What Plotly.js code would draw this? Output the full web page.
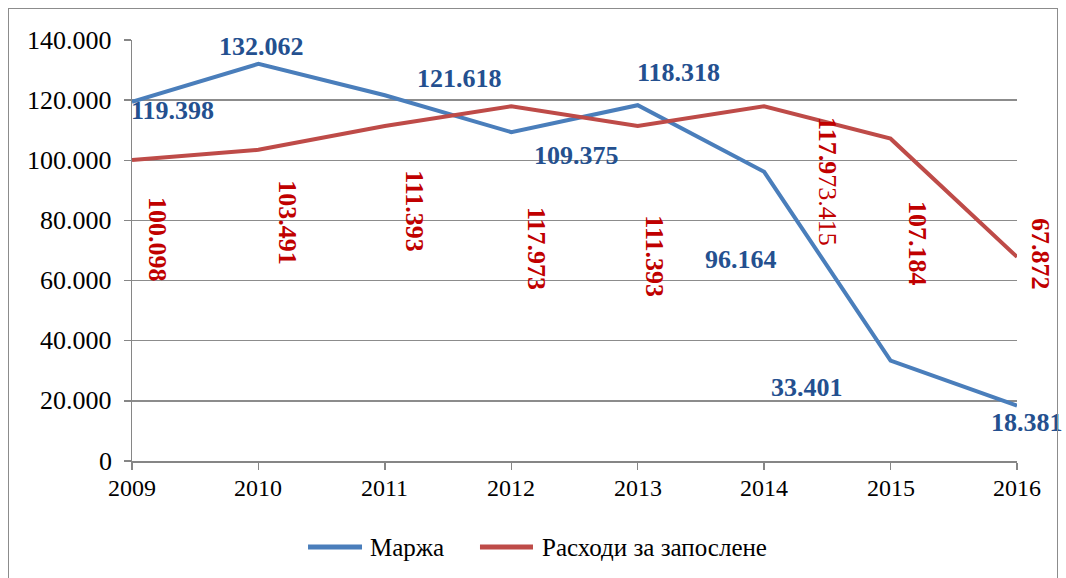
<!DOCTYPE html>
<html>
<head>
<meta charset="utf-8">
<script src="https://cdn.plot.ly/plotly-3.0.1.min.js"></script>
<style>
html,body{margin:0;padding:0;background:#fff;}
#chart{width:1066px;height:578px;}
#frame{position:absolute;left:8px;top:8px;width:1048px;height:590px;border:1.5px solid #8c8c8c;pointer-events:none;}
</style>
</head>
<body>
<div id="chart"></div>
<div id="frame"></div>
<script>
const years = [2009, 2010, 2011, 2012, 2013, 2014, 2015, 2016];
const marza = [119.398, 132.062, 121.618, 109.375, 118.318, 96.164, 33.401, 18.381];
const rashodi = [100.098, 103.491, 111.393, 117.973, 111.393, 117.973, 107.184, 67.872];
const marzaLabels = ['119.398','132.062','121.618','109.375','118.318','96.164','33.401','18.381'];
const rashodiLabels = ['100.098','103.491','111.393','117.973','111.393','<b>117.9</b>73.415','107.184','67.872'];
const yTickVals = [0, 20, 40, 60, 80, 100, 120, 140];
const yTickText = ['0','20.000','40.000','60.000','80.000','100.000','120.000','140.000'];
const seriesNames = ['Маржа', 'Расходи за запослене'];
const seriesColors = ['#4A7EBB', '#BE4B48'];

const blueShift = [[40,-9],[3,17],[75,17],[65,-23],[41,33],[-23,-88],[-84,-27],[10,-17]];
const redShift = [[25,-79],[29,-73],[30,-85],[25,-142],[17,-130],[64,-75],[27,-105],[23,3]];

const FAM = 'Liberation Serif';
const annList = [];
years.forEach((yr, i) => {
  annList.push({
    x: yr, y: marza[i], xref: 'x', yref: 'y', text: '<b>' + marzaLabels[i] + '</b>',
    showarrow: false, xshift: blueShift[i][0], yshift: blueShift[i][1],
    font: {family: FAM, size: 26, color: '#24508F'}
  });
  annList.push({
    x: yr, y: rashodi[i], xref: 'x', yref: 'y',
    text: i === 5 ? rashodiLabels[i] : '<b>' + rashodiLabels[i] + '</b>',
    showarrow: false, textangle: 90, xshift: redShift[i][0], yshift: redShift[i][1],
    font: {family: FAM, size: 26, color: '#C00000'}
  });
  // x tick labels
  annList.push({
    x: yr, y: 0, xref: 'x', yref: 'paper', text: String(yr), showarrow: false,
    yanchor: 'top', yshift: -12, font: {family: FAM, size: 24, color: '#000'}
  });
});
// y tick labels
yTickVals.forEach((v, i) => {
  annList.push({
    x: 0, y: v, xref: 'paper', yref: 'y', text: yTickText[i], showarrow: false,
    xanchor: 'right', xshift: -18, font: {family: FAM, size: 26, color: '#000'}
  });
});
// legend (drawn)
const legLine = [[0.1989, 0.2599], [0.3932, 0.4531]];
const legText = [0.2667, 0.461];
const legY = -0.2043;
const shapes = [];
seriesNames.forEach((nm, i) => {
  shapes.push({type: 'line', xref: 'paper', yref: 'paper', x0: legLine[i][0], x1: legLine[i][1],
               y0: legY, y1: legY, line: {color: seriesColors[i], width: 5}});
  annList.push({x: legText[i], y: legY, xref: 'paper', yref: 'paper', text: nm, showarrow: false,
                xanchor: 'left', yanchor: 'middle', font: {family: FAM, size: 25, color: '#000'}});
});

const traces = [
  {x: years, y: marza, type: 'scatter', mode: 'lines', name: seriesNames[0],
   line: {color: seriesColors[0], width: 4}, hoverinfo: 'skip'},
  {x: years, y: rashodi, type: 'scatter', mode: 'lines', name: seriesNames[1],
   line: {color: seriesColors[1], width: 4}, hoverinfo: 'skip'}
];

const lay = {
  width: 1066, height: 578,
  margin: {l: 132, r: 49, t: 40, b: 117},
  paper_bgcolor: '#fff', plot_bgcolor: '#fff',
  font: {family: FAM, size: 22, color: '#000'},
  showlegend: false,
  xaxis: {
    range: [2009, 2016], tickvals: years, showticklabels: false,
    showgrid: false, zeroline: false, showline: true, linecolor: '#868686', linewidth: 1.5,
    ticks: 'outside', ticklen: 7, tickcolor: '#868686', tickwidth: 1.5, fixedrange: true
  },
  yaxis: {
    range: [0, 140], tickvals: yTickVals, showticklabels: false,
    showgrid: true, gridcolor: '#8c8c8c', gridwidth: 1.5, zeroline: false,
    showline: true, linecolor: '#868686', linewidth: 1.5,
    ticks: 'outside', ticklen: 7, tickcolor: '#868686', tickwidth: 1.5, fixedrange: true
  },
  shapes: shapes,
  annotations: annList
};

Plotly.newPlot('chart', traces, lay, {displayModeBar: false, staticPlot: true});
</script>
</body>
</html>
